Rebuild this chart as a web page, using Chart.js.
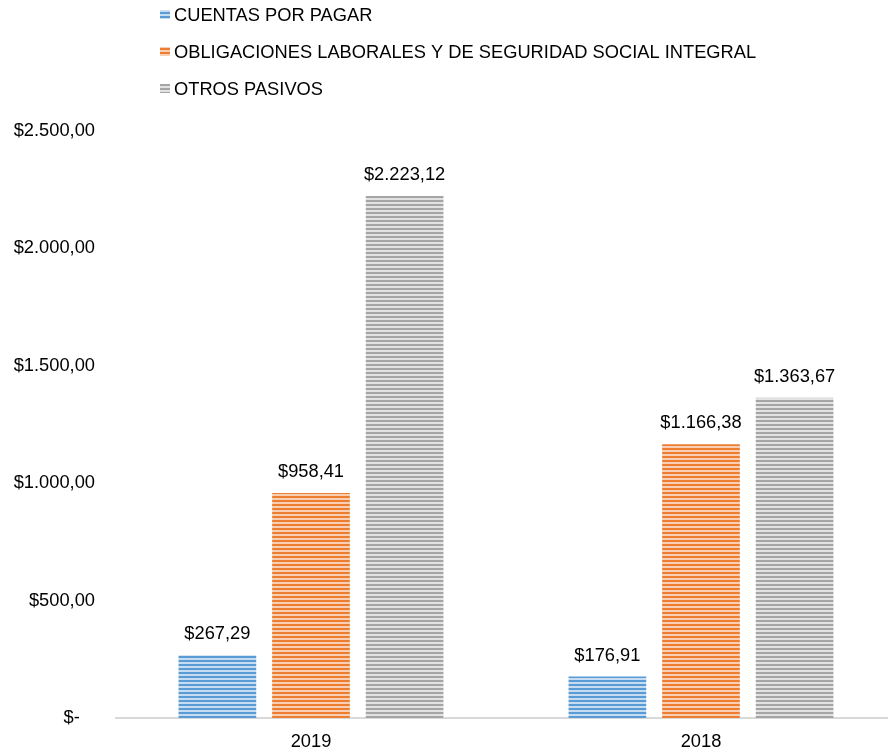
<!DOCTYPE html>
<html>
<head>
<meta charset="utf-8">
<script src="https://cdn.jsdelivr.net/npm/chart.js@4.4.1/dist/chart.umd.min.js"></script>
<style>
  html, body { margin: 0; padding: 0; background: #fff; overflow: hidden; }
  #wrap { width: 888px; height: 752px; overflow: hidden; }
</style>
</head>
<body>
<div id="wrap"><canvas id="chart" width="900" height="752"></canvas></div>
<script>
const years = ['2019', '2018'];
const cuentasPorPagar = [267.29, 176.91];
const obligacionesLaborales = [958.41, 1166.38];
const otrosPasivos = [2223.12, 1363.67];
const seriesNames = [
  'CUENTAS POR PAGAR',
  'OBLIGACIONES LABORALES Y DE SEGURIDAD SOCIAL INTEGRAL',
  'OTROS PASIVOS'
];

const FONT = '"Liberation Sans", Arial, sans-serif';
const FS = 18.3;

// horizontal striped fill like the Excel pattern
function stripes(dark, light) {
  const c = document.createElement('canvas');
  c.width = 4;
  c.height = 4;
  const x = c.getContext('2d');
  x.fillStyle = light;
  x.fillRect(0, 0, 4, 4);
  x.fillStyle = dark;
  x.fillRect(0, 0, 4, 2);
  return x.createPattern(c, 'repeat');
}

const ctx = document.getElementById('chart').getContext('2d');
const fills = [
  stripes('#5b9bd5', '#c6dcf0'),
  stripes('#ed7d31', '#f8cfb2'),
  stripes('#a5a5a5', '#e2e2e2')
];

function money(v) {
  if (v === 0) return '$-   ';
  const parts = v.toFixed(2).split('.');
  const int = parts[0].replace(/\B(?=(\d{3})+(?!\d))/g, '.');
  return '$' + int + ',' + parts[1];
}

const valueLabels = {
  id: 'valueLabels',
  afterDatasetsDraw(chart) {
    const c = chart.ctx;
    c.save();
    c.font = FS + 'px ' + FONT;
    c.fillStyle = '#000';
    c.textAlign = 'center';
    c.textBaseline = 'middle';
    chart.data.datasets.forEach((ds, i) => {
      chart.getDatasetMeta(i).data.forEach((bar, j) => {
        c.fillText(money(ds.data[j]), bar.x, bar.y - 21);
      });
    });
    c.restore();
  }
};

const stackedLegend = {
  id: 'stackedLegend',
  afterDraw(chart) {
    const c = chart.ctx;
    c.save();
    c.font = FS + 'px ' + FONT;
    c.textBaseline = 'middle';
    c.textAlign = 'left';
    chart.data.datasets.forEach((ds, i) => {
      const y = 15 + i * 37;
      c.fillStyle = ds.backgroundColor;
      c.fillRect(160, y - 5, 10, 9);
      c.fillStyle = '#000';
      c.fillText(ds.label, 174, y + 1);
    });
    c.restore();
  }
};

new Chart(ctx, {
  type: 'bar',
  data: {
    labels: years,
    datasets: [
      { label: seriesNames[0], data: cuentasPorPagar, backgroundColor: fills[0] },
      { label: seriesNames[1], data: obligacionesLaborales, backgroundColor: fills[1] },
      { label: seriesNames[2], data: otrosPasivos, backgroundColor: fills[2] }
    ]
  },
  options: {
    responsive: false,
    animation: false,
    categoryPercentage: 0.72,
    barPercentage: 0.83,
    layout: { padding: { top: 131, left: 12, right: 4, bottom: 0 } },
    plugins: {
      legend: { display: false },
      tooltip: { enabled: false }
    },
    scales: {
      x: {
        grid: { display: false, drawTicks: false },
        border: { display: true, color: '#d9d9d9', width: 2 },
        ticks: { color: '#000', font: { family: FONT, size: FS }, padding: 13 },
        afterFit(scale) { scale.height = 34; }
      },
      y: {
        min: 0,
        max: 2500,
        grid: { display: false, drawTicks: false },
        border: { display: false },
        ticks: {
          stepSize: 500,
          color: '#000',
          font: { family: FONT, size: FS },
          padding: 21,
          callback: v => money(v)
        },
        afterFit(scale) { scale.width = 104; }
      }
    }
  },
  plugins: [valueLabels, stackedLegend]
});
</script>
</body>
</html>
